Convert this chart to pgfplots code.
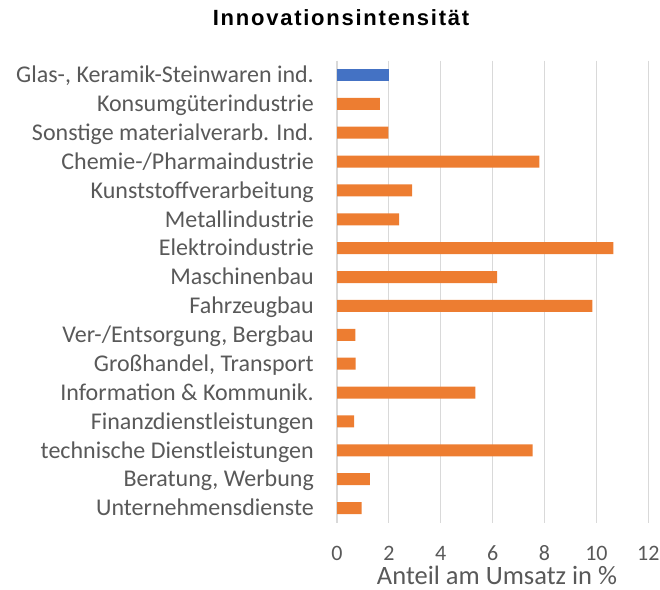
\documentclass[border=0pt]{standalone}
\usepackage{pgfplots}
\pgfplotsset{compat=1.18}
\usepackage{fontspec}
\setmainfont{Carlito}
\newfontfamily\titlefont{Liberation Sans}[LetterSpace=8]
\definecolor{barorange}{HTML}{ED7D31}
\definecolor{barblue}{HTML}{4472C4}
\definecolor{gridgray}{HTML}{D9D9D9}
\definecolor{textgray}{HTML}{595959}
\begin{document}
\begin{tikzpicture}
\useasboundingbox (0,0) rectangle (660bp,590bp);
\node[anchor=base, inner sep=0pt, font=\titlefont\bfseries\fontsize{22bp}{24bp}\selectfont] at (341bp,564bp) {Innovationsintensität};
\begin{axis}[
  at={(337bp,67.5bp)}, anchor=south west,
  scale only axis, width=311.3bp, height=462bp,
  xmin=0, xmax=12, ymin=-0.5, ymax=15.5, y dir=reverse,
  xtick={0,2,...,12},
  ytick={0,...,15},
  yticklabels={{Glas-, Keramik-Steinwaren ind.},Konsumgüterindustrie,{Sonstige materialverarb. Ind.},Chemie-/Pharmaindustrie,Kunststoffverarbeitung,Metallindustrie,Elektroindustrie,Maschinenbau,Fahrzeugbau,{Ver-/Entsorgung, Bergbau},{Großhandel, Transport},{Information \& Kommunik.},Finanzdienstleistungen,{technische Dienstleistungen},{Beratung, Werbung},Unternehmensdienste},
  xmajorgrids, grid style={gridgray, line width=1.1bp},
  axis line style={draw=none},
  major tick length=0pt,
  tick style={draw=none},
  xbar, bar width=12bp, bar shift=0pt,
  /pgf/number format/assume math mode=true,
  ticklabel style={text=textgray},
  yticklabel style={font=\fontsize{24bp}{26bp}\selectfont, anchor=base east, inner sep=0pt, xshift=-23bp, yshift=-7.7bp},
  xticklabel style={font=\fontsize{22bp}{24bp}\selectfont, anchor=base, inner sep=0pt, yshift=-38.2bp},
  xlabel={Anteil am Umsatz in \%},
  xlabel style={font=\fontsize{26.5bp}{30bp}\selectfont, text=textgray, anchor=base, inner sep=0pt, at={(axis description cs:0.514,0)}, yshift=-61.5bp},
]
\addplot[fill=barblue, draw=none] coordinates {(2.02,0)};
\addplot[fill=barorange, draw=none] coordinates {
(1.65,1) (1.98,2) (7.80,3) (2.90,4) (2.39,5) (10.65,6) (6.17,7) (9.84,8)
(0.71,9) (0.72,10) (5.33,11) (0.66,12) (7.54,13) (1.27,14) (0.95,15)};
\end{axis}
\end{tikzpicture}
\end{document}
